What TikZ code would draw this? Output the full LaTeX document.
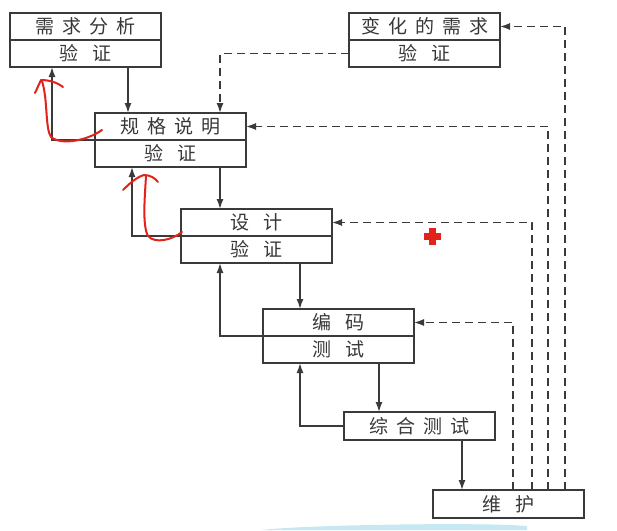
\documentclass[tikz,border=0pt]{standalone}
\usepackage{fontspec}
\newfontfamily\cjk{Noto Sans CJK SC}
\usetikzlibrary{arrows.meta}
\definecolor{ln}{HTML}{3A3A3A}
\definecolor{tx}{HTML}{383838}
\definecolor{anno}{HTML}{E3221B}
\definecolor{smudge}{HTML}{C6E8F3}
\newcommand\gs{\hskip8pt\relax}
\newcommand\gw{\hskip14pt\relax}
\begin{document}
\begin{tikzpicture}[x=1pt,y=-1pt,
  box/.style={draw=ln, line width=1.6pt, minimum width=151pt, minimum height=27pt,
    inner sep=0pt, outer sep=0pt, anchor=north west,
    font=\cjk\fontsize{19}{22}\selectfont, text=tx},
  arr/.style={draw=ln, line width=1.4pt, -{Latex[length=10pt,width=7pt]}},
  darr/.style={arr, dash pattern=on 8pt off 5pt},
  red/.style={draw=anno, line width=2pt, line cap=round, line join=round}]
\useasboundingbox (0,0) rectangle (617,530);
\fill[white] (0,0) rectangle (617,530);

% boxes
\node[box] (r1) at (10,13)  {需\gs 求\gs 分\gs 析};
\node[box] (v1) at (10,40)  {验\gw 证};
\node[box] (r2) at (349,13) {变\gs 化\gs 的\gs 需\gs 求};
\node[box] (v2) at (349,40) {验\gw 证};
\node[box] (r3) at (95,113) {规\gs 格\gs 说\gs 明};
\node[box] (v3) at (95,140) {验\gw 证};
\node[box] (r4) at (181,209) {设\gw 计};
\node[box] (v4) at (181,236) {验\gw 证};
\node[box] (r5) at (263,309) {编\gw 码};
\node[box] (v5) at (263,336) {测\gw 试};
\node[box, minimum height=28pt] (r6) at (344,412) {综\gs 合\gs 测\gs 试};
\node[box, minimum height=28pt] (r7) at (433,490) {维\gw 护};

% x positions of vertical runs
\coordinate (xa) at (128,0);
\coordinate (xb) at (52,0);
\coordinate (xc) at (220,0);
\coordinate (xd) at (132,0);
\coordinate (xe) at (300,0);
\coordinate (xf) at (379,0);
\coordinate (xg) at (462,0);
\coordinate (xh1) at (565,0);
\coordinate (xh2) at (548,0);
\coordinate (xh3) at (532,0);
\coordinate (xh4) at (513,0);

% forward flow
\draw[arr] (v1.south -| xa) -- (r3.north -| xa);
\draw[arr] (v3.south -| xc) -- (r4.north -| xc);
\draw[arr] (v4.south -| xe) -- (r5.north -| xe);
\draw[arr] (v5.south -| xf) -- (r6.north -| xf);
\draw[arr] (r6.south -| xg) -- (r7.north -| xg);

% feedback
\draw[arr] (v3.north west) -| (v1.south -| xb);
\draw[arr] (v4.north west) -| (v3.south -| xd);
\draw[arr] (v5.north west) -| (v4.south -| xc);
\draw[arr] (r6.west) -| (v5.south -| xe);

% changing requirements / maintenance (dashed)
\draw[darr] (v2.west) -| (r3.north -| xc);
\draw[darr] (r7.north -| xh1) |- (r2.east);
\draw[darr] (r7.north -| xh2) |- (r3.east);
\draw[darr] (r7.north -| xh3) |- (r4.east);
\draw[darr] (r7.north -| xh4) |- (r5.east);

% handwritten red annotations
\draw[red] (102,130) .. controls (88,140) and (62,146) .. (51,137)
           .. controls (45,128) and (48,100) .. (42,81);
\draw[red] (35,93) -- (41,80) .. controls (50,80) and (58,83) .. (63,87);
\draw[red] (182,232) .. controls (172,240) and (155,244) .. (148,236)
           .. controls (142,225) and (145,195) .. (146,176);
\draw[red] (123,190) .. controls (130,183) and (137,177) .. (144,175)
           .. controls (150,175) and (155,178) .. (158,182);
\fill[anno] (424,233) rectangle (441,240);
\fill[anno] (429,228) rectangle (436,245);

% smudge at the bottom edge
\fill[smudge] (262,530) .. controls (300,525) and (480,522) .. (527,526) -- (527,530) -- cycle;
\end{tikzpicture}
\end{document}
